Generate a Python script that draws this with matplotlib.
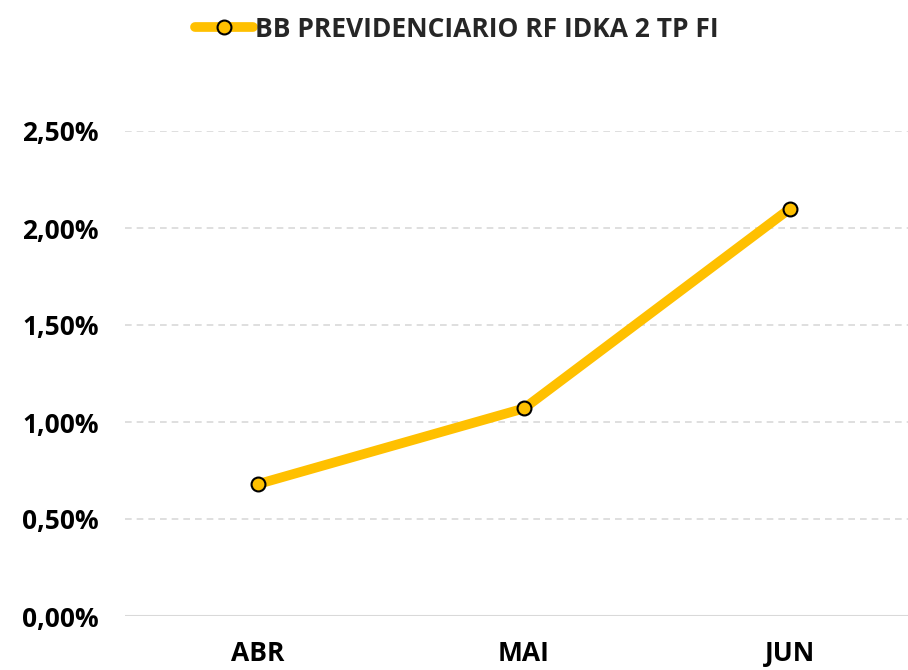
import matplotlib.pyplot as plt
from matplotlib.ticker import FuncFormatter

meses = ['ABR', 'MAI', 'JUN']
rentab = [0.68, 1.07, 2.10]
serie = 'BB PREVIDENCIARIO RF IDKA 2 TP FI'
yticks = [0.0, 0.5, 1.0, 1.5, 2.0, 2.5]

plt.rcParams['font.family'] = ['Open Sans', 'DejaVu Sans']
plt.rcParams['font.weight'] = 'bold'

fig = plt.figure(figsize=(9.08, 6.70), dpi=100)
ax = fig.add_axes([125 / 908, 54 / 670, 798 / 908, 485 / 670])

x = range(len(meses))
ax.plot(x, rentab, color='#FFC000', lw=7, marker='o', ms=10,
        mfc='#FFC000', mec='black', mew=1.5, solid_capstyle='round',
        label=serie, zorder=3)

ax.set_xlim(-0.5, 2.5)
ax.set_ylim(0, 2.5)
ax.set_xticks(list(x))
ax.set_xticklabels(meses)
ax.set_yticks(yticks)
ax.yaxis.set_major_formatter(FuncFormatter(lambda v, p: f'{v:.2f}%'.replace('.', ',')))
ax.tick_params(length=0, labelsize=19, colors='black')
ax.tick_params(axis='x', pad=17)
ax.tick_params(axis='y', pad=19)

for t in yticks[1:]:
    ax.axhline(t, color='#d9d9d9', lw=1.2, ls=(0, (4, 3)), zorder=1)
ax.axhline(0, color='#d9d9d9', lw=1.5, zorder=1)
for s in ax.spines.values():
    s.set_visible(False)

leg = fig.legend(loc='upper center', bbox_to_anchor=(0.503, 1.012), frameon=False,
                 fontsize=19, handlelength=2.2, handletextpad=0.05)
for t in leg.get_texts():
    t.set_color('#262626')

fig.savefig('out.png', dpi=100)
